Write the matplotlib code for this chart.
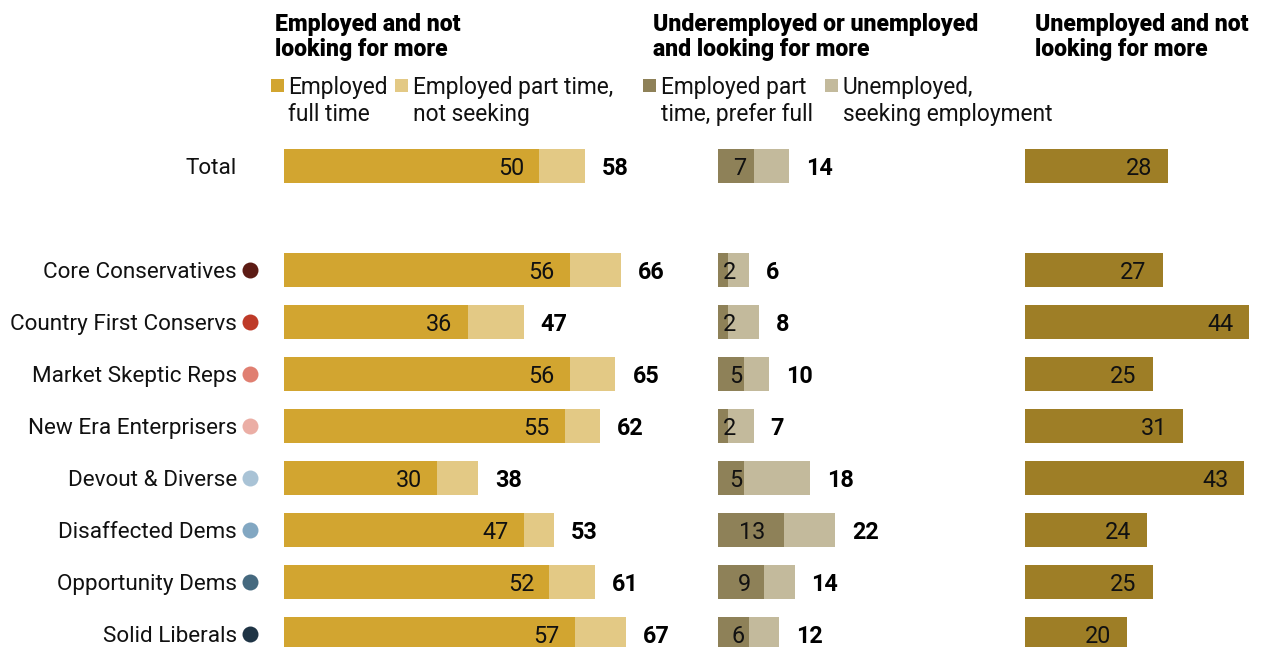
import matplotlib
matplotlib.use("Agg")
import matplotlib.pyplot as plt

# ---- data ----
groups = ["Total", "Core Conservatives", "Country First Conservs", "Market Skeptic Reps",
          "New Era Enterprisers", "Devout & Diverse", "Disaffected Dems",
          "Opportunity Dems", "Solid Liberals"]
group_colors = [None, "#5C1B14", "#BE3A28", "#E07F71", "#EBAEA5",
                "#A9C3D6", "#82A7C2", "#45697F", "#1F3445"]

employed_full = [50, 56, 36, 56, 55, 30, 47, 52, 57]
employed_part_not_seeking = [9, 10, 11, 9, 7, 8, 6, 9, 10]
employed_total_label = [58, 66, 47, 65, 62, 38, 53, 61, 67]

part_prefer_full = [7, 2, 2, 5, 2, 5, 13, 9, 6]
unemployed_seeking = [7, 4, 6, 5, 5, 13, 10, 6, 6]
looking_total_label = [14, 6, 8, 10, 7, 18, 22, 14, 12]

unemployed_not_looking = [28, 27, 44, 25, 31, 43, 24, 25, 20]

panel_titles = ["Employed and not\nlooking for more",
                "Underemployed or unemployed\nand looking for more",
                "Unemployed and not\nlooking for more"]
legend_labels = ["Employed\nfull time", "Employed part time,\nnot seeking",
                 "Employed part\ntime, prefer full", "Unemployed,\nseeking employment"]

C_FULL = "#D2A530"
C_PART = "#E3C985"
C_PREF = "#8E8158"
C_SEEK = "#C3BA9C"
C_UNL = "#9E7E26"

W, H = 1261, 647
PX_PER_UNIT = 5.1
ROW_PX = 52
FIRST_ROW_PX = 166

FONT = "Roboto"
plt.rcParams["font.family"] = [FONT, "DejaVu Sans"]

fig = plt.figure(figsize=(W / 100, H / 100), dpi=100)

def fx(x):
    return x / W

def fy(y):
    return 1 - y / H

row_pos = [0] + list(range(2, 2 + len(groups) - 1))
ylim = ((H - FIRST_ROW_PX) / ROW_PX, -FIRST_ROW_PX / ROW_PX)
bar_h = 34 / ROW_PX

def make_ax(left_px, width_px):
    ax = fig.add_axes([fx(left_px), 0, width_px / W, 1])
    ax.set_xlim(0, width_px / PX_PER_UNIT)
    ax.set_ylim(*ylim)
    ax.axis("off")
    return ax

ax1 = make_ax(284, 420)
ax2 = make_ax(718, 300)
ax3 = make_ax(1025, 236)

VAL_FS = 16.8
TOT_FS = 16.8
LAB_FS = 16.2
TITLE_FS = 16.6
LEG_FS = 16.4

# Panel 1
ax1.barh(row_pos, employed_full, height=bar_h, color=C_FULL, linewidth=0)
ax1.barh(row_pos, employed_part_not_seeking, left=employed_full, height=bar_h,
         color=C_PART, linewidth=0)
for y, a, b, t in zip(row_pos, employed_full, employed_part_not_seeking, employed_total_label):
    ax1.annotate(str(a), (a, y), xytext=(-15, 0), textcoords="offset pixels",
                 ha="right", va="center_baseline", fontsize=VAL_FS, color="#111111")
    ax1.annotate(str(t), (a + b, y), xytext=(17, 0), textcoords="offset pixels",
                 ha="left", va="center_baseline", fontsize=TOT_FS, fontweight="bold",
                 color="#000000")

# Panel 2
ax2.barh(row_pos, part_prefer_full, height=bar_h, color=C_PREF, linewidth=0)
ax2.barh(row_pos, unemployed_seeking, left=part_prefer_full, height=bar_h,
         color=C_SEEK, linewidth=0)
for y, a, b, t in zip(row_pos, part_prefer_full, unemployed_seeking, looking_total_label):
    ax2.text(0.4 * a + 1.5, y, str(a), ha="center", va="center_baseline",
             fontsize=VAL_FS, color="#111111")
    ax2.annotate(str(t), (a + b, y), xytext=(17, 0), textcoords="offset pixels",
                 ha="left", va="center_baseline", fontsize=TOT_FS, fontweight="bold",
                 color="#000000")

# Panel 3
ax3.barh(row_pos, unemployed_not_looking, height=bar_h, color=C_UNL, linewidth=0)
for y, a in zip(row_pos, unemployed_not_looking):
    ax3.annotate(str(a), (a, y), xytext=(-16, 0), textcoords="offset pixels",
                 ha="right", va="center_baseline", fontsize=VAL_FS, color="#111111")

# Row labels and dots
for y, name, col in zip(row_pos, groups, group_colors):
    ax1.text(-47 / PX_PER_UNIT, y, name, ha="right", va="center_baseline",
             fontsize=LAB_FS, color="#111111", clip_on=False)
    if col is not None:
        ax1.plot([-34 / PX_PER_UNIT], [y], marker="o", markersize=11.5,
                 color=col, markeredgewidth=0, clip_on=False)

# Titles
for x, t in zip([275, 653, 1035], panel_titles):
    fig.text(fx(x), fy(13), t, ha="left", va="top", fontsize=TITLE_FS,
             fontweight="heavy", color="#000000", linespacing=1.13)

# Legends
leg_items = [(271, 288, C_FULL), (395, 413, C_PART), (643, 661, C_PREF), (825, 843, C_SEEK)]
for (sx, tx, c), lab in zip(leg_items, legend_labels):
    fig.patches.append(plt.Rectangle((fx(sx), fy(92)), 13 / W, 13 / H,
                                     transform=fig.transFigure, color=c, linewidth=0))
    fig.text(fx(tx), fy(76), lab, ha="left", va="top", fontsize=LEG_FS,
             color="#111111", linespacing=1.24)

fig.savefig("out.png", dpi=100)
